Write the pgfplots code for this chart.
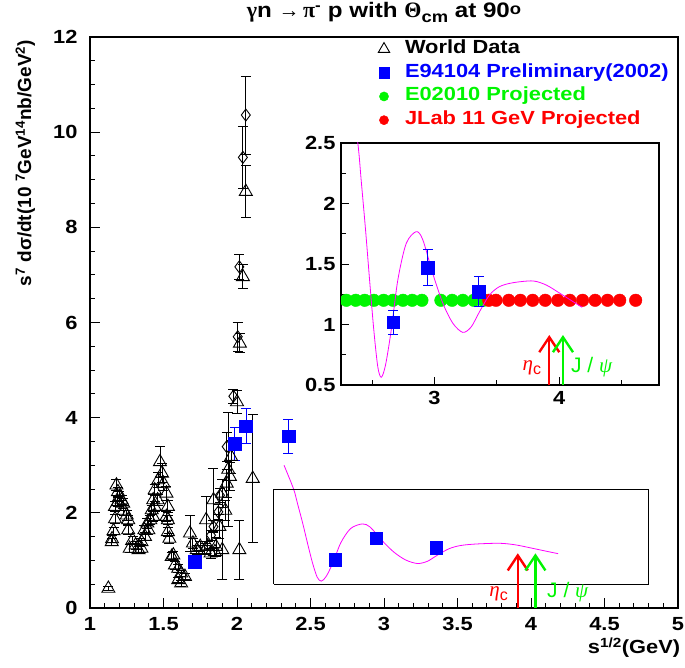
\documentclass[border=0pt]{standalone}
\usepackage{fontspec}
\setmainfont{Liberation Sans}[FakeStretch=1.15]
\newfontfamily\plainsans{Liberation Sans}
\newfontfamily\symf{Liberation Serif}
\usepackage{pgfplots}
\usepackage{pgfplotstable}
\pgfplotsset{compat=1.18}
\usetikzlibrary{arrows.meta}
\definecolor{rgreen}{RGB}{0,245,0}
\definecolor{rblue}{RGB}{0,0,255}
\definecolor{rred}{RGB}{255,0,0}
\definecolor{rmag}{RGB}{255,0,255}
\newcommand{\bigf}{\fontsize{19}{22}\selectfont\bfseries}
\pgfplotsset{myleg/.style={legend image code/.code={\path[draw=none, fill=none] (-10pt,-6pt) rectangle (21pt,6pt); \draw[##1] plot coordinates {(0pt,0pt)};}}}

\pgfplotstableread{
x y e
1.125 0.41 0.05
1.148 1.39 0.08
1.15 1.45 0.08
1.16 1.62 0.08
1.17 1.87 0.1
1.17 2.13 0.1
1.18 2.58 0.12
1.19 2.44 0.1
1.19 2.23 0.1
1.20 2.34 0.1
1.215 2.27 0.1
1.226 2.20 0.1
1.23 2.05 0.1
1.25 1.95 0.1
1.26 1.85 0.1
1.26 1.64 0.1
1.27 1.25 0.08
1.29 1.43 0.08
1.31 1.32 0.08
1.33 1.22 0.08
1.35 1.39 0.08
1.35 1.25 0.08
1.374 1.50 0.08
1.37 1.64 0.1
1.39 1.78 0.1
1.397 1.64 0.1
1.41 1.85 0.1
1.42 2.06 0.1
1.43 1.92 0.1
1.43 2.27 0.12
1.44 2.13 0.1
1.44 2.48 0.12
1.46 2.27 0.12
1.465 2.69 0.15
1.476 3.07 0.32
1.49 2.83 0.2
1.50 2.62 0.15
1.52 2.41 0.15
1.52 1.92 0.1
1.53 2.13 0.12
1.53 1.85 0.1
1.53 1.60 0.1
1.54 1.46 0.1
1.556 1.08 0.08
1.567 1.11 0.08
1.578 0.90 0.08
1.60 0.83 0.08
1.60 0.59 0.06
1.62 0.73 0.06
1.62 0.52 0.06
1.646 0.66 0.06
1.68 1.57 0.38
1.70 1.36 0.1
1.726 1.22 0.1
1.75 1.29 0.1
1.78 1.22 0.1
1.79 1.85 0.5
1.80 1.30 0.1
1.82 1.15 0.1
1.84 2.27 0.66
1.85 1.18 0.1
1.857 1.29 0.2
1.88 1.71 0.25
1.90 1.22 0.63
1.90 2.41 0.3
1.92 2.05 0.2
1.93 2.62 0.3
1.94 2.91 1.2
1.952 2.76 0.3
1.96 3.18 0.35
2.00 4.33 0.25
2.016 1.22 0.63
2.02 5.56 0.2
2.04 6.96 0.25
2.06 8.75 0.55
2.107 2.72 1.35
}\worldtri

\pgfplotstableread{
x y e
1.823 1.53 0.1
1.84 1.71 0.12
1.873 2.02 0.15
1.884 2.37 0.15
1.93 3.39 0.3
1.975 4.45 0.15
2.005 5.70 0.3
2.016 7.17 0.27
2.04 9.47 0.65
2.06 10.36 0.82
}\worlddia

\pgfplotstableread{
x y e
1.714 0.97 0.08
1.986 3.45 0.34
2.061 3.82 0.37
2.35 3.61 0.36
}\bluelow

\pgfplotstableread{
x y e
2.667 1.02 0.10
2.947 1.47 0.15
3.355 1.27 0.125
}\bluehigh

\pgfplotstableread{
x y
2.32 3.00
2.385 2.50
2.412 2.19
2.447 1.78
2.479 1.37
2.513 0.955
2.545 0.65
2.573 0.564
2.607 0.665
2.653 0.955
2.706 1.37
2.773 1.67
2.853 1.767
2.906 1.70
2.986 1.42
3.067 1.175
3.147 1.01
3.227 0.935
3.294 0.98
3.361 1.106
3.441 1.244
3.521 1.313
3.628 1.345
3.788 1.36
3.896 1.326
4.002 1.26
4.109 1.19
4.184 1.142
}\curve

\pgfplotstableread{
x y
2.22 1.2
2.293 1.2
2.368 1.2
2.44 1.2
2.514 1.2
2.592 1.2
2.667 1.2
2.747 1.2
2.821 1.2
2.899 1.2
3.051 1.2
3.141 1.2
3.227 1.2
3.315 1.2
3.392 1.2
}\greenpts

\pgfplotstableread{
x y
3.435 1.2
3.493 1.2
3.595 1.2
3.688 1.2
3.787 1.2
3.888 1.2
3.989 1.2
4.085 1.2
4.187 1.2
4.288 1.2
4.387 1.2
4.485 1.2
4.613 1.2
}\redpts

\begin{document}
\begin{tikzpicture}
\begin{axis}[
  name=main, at={(0pt,0pt)}, anchor=south west,
  scale only axis, width=588pt, height=571pt,
  xmin=1, xmax=5, ymin=0, ymax=12,
  xtick={1,1.5,2,2.5,3,3.5,4,4.5,5}, minor x tick num=4,
  ytick={0,2,4,6,8,10,12}, minor y tick num=3,
  tick align=inside, xtick pos=bottom, ytick pos=left,
  major tick length=10pt, minor tick length=5pt,
  axis line style={line width=1.5pt},
  every tick/.append style={black, line width=0.9pt},
  ticklabel style={font=\bigf},
  /pgf/number format/assume math mode=true,
  xticklabel style={yshift=-6pt},
  yticklabel style={xshift=-9pt},
  xlabel={s\textsuperscript{1/2}(GeV)},
  xlabel style={at={(axis description cs:1.004,-0.052)}, anchor=north east, font=\bigf, inner sep=0pt},
  ylabel={\plainsans s\textsuperscript{7} dσ/dt(10 \textsuperscript{7}GeV\textsuperscript{14}nb/GeV\textsuperscript{2})},
  ylabel style={at={(axis description cs:-0.11,0.995)}, anchor=east, font=\bigf, inner sep=0pt},
  title={{\symf\fontsize{22}{24}\selectfont γ}n\ {\plainsans\mdseries\fontsize{21}{24}\selectfont →}\,{\symf\fontsize{22}{24}\selectfont π}\textsuperscript{-}\ p with {\symf\fontsize{22}{24}\selectfont Θ}\raisebox{-0.45ex}{\fontsize{16}{17}\selectfont cm} at 90\raisebox{0.3ex}{\fontsize{16}{17}\selectfont o}},
  title style={at={(axis description cs:0.5,1)}, anchor=base, yshift=13pt, font=\fontsize{21}{24}\selectfont\bfseries, inner sep=0pt},
  legend style={at={(axis description cs:0.483,0.9955)}, anchor=north west, draw=none, fill=none,
     inner sep=0pt, outer sep=0pt, column sep=0pt,
     font=\bigf, row sep=4.7pt, nodes={inner sep=0pt, text height=14pt, text depth=5pt}},
  legend cell align=left,
  error bars/error bar style={line width=0.9pt},
  error bars/error mark options={rotate=90, mark size=5pt, line width=0.9pt},
]
\addplot[only marks, mark=triangle, mark size=7.5pt, black, mark options={line width=0.9pt},
  myleg, legend image post style={mark size=6.5pt},
  error bars/.cd, y dir=both, y explicit] table[x=x, y=y, y error=e] {\worldtri};
\addlegendentry{World Data}
\addplot[only marks, mark=diamond, mark size=6pt, black, mark options={line width=0.9pt}, forget plot,
  error bars/.cd, y dir=both, y explicit] table[x=x, y=y, y error=e] {\worlddia};
\addplot[rmag, line width=0.8pt, smooth, forget plot] table[x=x, y=y] {\curve};
\addplot[black, line width=0.8pt, forget plot] coordinates {(2.25,0.5) (4.8,0.5) (4.8,2.5) (2.25,2.5) (2.25,0.5)};
\addplot[only marks, mark=square*, mark size=6.3pt, rblue, forget plot] table[x=x, y=y] {\bluehigh};
\addplot[only marks, mark=square*, mark size=6.3pt, rblue, myleg, legend image post style={mark size=5.3pt},
  error bars/.cd, y dir=both, y explicit] table[x=x, y=y, y error=e] {\bluelow};
\addlegendentry{\textcolor{rblue}{E94104 Preliminary(2002)}}
\addlegendimage{only marks, mark=*, rgreen, mark size=4.6pt, myleg}
\addlegendentry{\textcolor{rgreen}{E02010 Projected}}
\addlegendimage{only marks, mark=*, rred, mark size=4.6pt, myleg}
\addlegendentry{\textcolor{rred}{JLab 11 GeV Projected}}
\draw[rred, line width=2.4pt, -{Straight Barb[length=15pt, width=20pt, line width=2.4pt]}] (axis cs:3.91,0) -- (axis cs:3.91,1.15);
\draw[rgreen, line width=2.4pt, -{Straight Barb[length=15pt, width=20pt, line width=2.4pt]}] (axis cs:4.03,0) -- (axis cs:4.03,1.15);
\node[rred, anchor=center, font=\fontsize{21}{24}\selectfont] at (axis cs:3.78,0.3) {{\symf\itshape η}\raisebox{-0.35ex}{\plainsans\fontsize{16}{18}\selectfont c}};
\node[rgreen, anchor=center, font=\fontsize{21}{24}\selectfont] at (axis cs:4.25,0.34) {{\plainsans J / }{\symf\itshape ψ}};
\end{axis}

\begin{axis}[
  name=inset, at={(251pt,223pt)}, anchor=south west,
  scale only axis, width=318pt, height=242pt,
  xmin=2.25, xmax=4.8, ymin=0.5, ymax=2.5,
  xtick={3,4}, minor xtick={2.5,3.5,4.5},
  ytick={0.5,1,1.5,2,2.5}, minor ytick={0.75,1.25,1.75,2.25},
  tick align=inside, xtick pos=bottom, ytick pos=left,
  major tick length=8pt, minor tick length=5pt,
  axis background/.style={fill=white},
  axis line style={line width=1.2pt},
  every tick/.append style={black, line width=0.9pt},
  ticklabel style={font=\bigf},
  /pgf/number format/assume math mode=true,
  yticklabel style={xshift=-2pt},
  xticklabel style={yshift=-3pt},
  clip marker paths=true,
  error bars/error bar style={line width=0.9pt},
  error bars/error mark options={rotate=90, mark size=5pt, line width=0.9pt},
]
\addplot[only marks, mark=*, mark size=6.3pt, rgreen] table[x=x, y=y] {\greenpts};
\addplot[only marks, mark=*, mark size=6.3pt, rred] table[x=x, y=y] {\redpts};
\addplot[rmag, line width=0.8pt, smooth] table[x=x, y=y] {\curve};
\addplot[only marks, mark=square*, mark size=6.3pt, rblue,
  error bars/.cd, y dir=both, y explicit] table[x=x, y=y, y error=e] {\bluehigh};
\draw[rred, line width=2.4pt, -{Straight Barb[length=15pt, width=20pt, line width=2.4pt]}] (axis cs:3.92,0.5) -- (axis cs:3.92,0.913);
\draw[rgreen, line width=2.4pt, -{Straight Barb[length=15pt, width=20pt, line width=2.4pt]}] (axis cs:4.03,0.5) -- (axis cs:4.03,0.913);
\node[rred, anchor=center, font=\fontsize{21}{24}\selectfont] at (axis cs:3.78,0.64) {{\symf\itshape η}\raisebox{-0.35ex}{\plainsans\fontsize{16}{18}\selectfont c}};
\node[rgreen, anchor=center, font=\fontsize{21}{24}\selectfont] at (axis cs:4.26,0.65) {{\plainsans J / }{\symf\itshape ψ}};
\end{axis}
\pgfresetboundingbox
\path (-90pt,-60pt) rectangle (595pt,608pt);
\end{tikzpicture}
\end{document}
